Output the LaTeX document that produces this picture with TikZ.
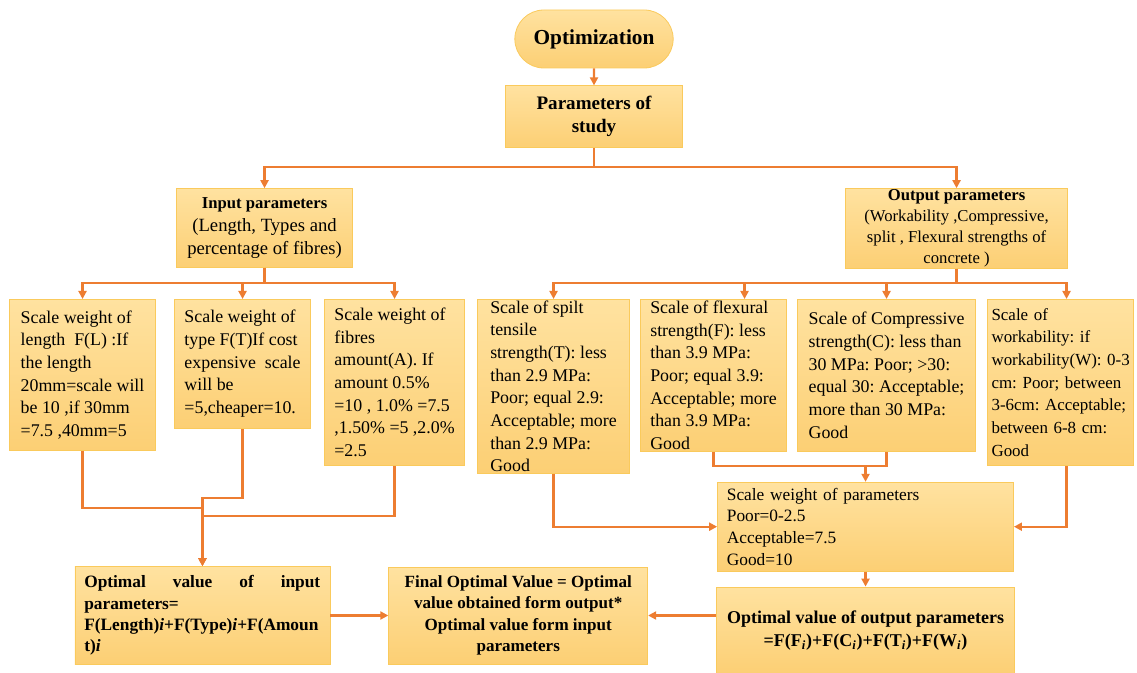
\documentclass[tikz,border=0pt]{standalone}
\usepackage{fontspec}
\setmainfont{Liberation Serif}
\usetikzlibrary{arrows.meta, positioning, shapes.misc}
\definecolor{boxtop}{RGB}{255,226,160}
\definecolor{boxbottom}{RGB}{252,207,116}
\definecolor{boxline}{RGB}{250,202,92}
\definecolor{linkorange}{RGB}{237,125,49}
\frenchspacing

\begin{document}
\begin{tikzpicture}[
  box/.style={rectangle, draw=boxline, line width=0.6pt, top color=boxtop, bottom color=boxbottom,
              align=left, inner xsep=7pt, inner ysep=0pt, font=\fontsize{13.4}{17}\selectfont},
  head/.style={box, align=center, font=\bfseries\fontsize{14.3}{17.3}\selectfont},
  pill/.style={head, rounded rectangle, font=\bfseries\fontsize{16}{19}\selectfont},
  arrow/.style={-{Triangle[length=6pt,width=6pt]}, draw=linkorange, line width=1.6pt},
  link/.style={draw=linkorange, line width=1.6pt}
]
\useasboundingbox (0,0) rectangle (852.75pt,-504.75pt);

\node[pill, minimum width=132.75pt, minimum height=43.5pt] (opt) at (445.5pt,-29.25pt) {Optimization};
\node[head, minimum width=132.75pt, minimum height=46.5pt, below=12.75pt of opt] (study) {Parameters of\\study};
\node[box, align=center, font=\fontsize{14}{17.5}\selectfont, minimum width=132pt, minimum height=59.25pt,
      below=30pt of study, xshift=-247.1pt] (inp) {{\bfseries\fontsize{12.5}{17.5}\selectfont Input parameters}\\(Length, Types and\\percentage of fibres)};
\node[box, align=center, font=\fontsize{12.5}{15.75}\selectfont, minimum width=166.5pt, minimum height=60pt,
      below=30pt of study, xshift=271.9pt] (outp) {\textbf{Output parameters}\\(Workability ,Compressive,\\split , Flexural strengths of\\concrete )};

% input side
\node[box, minimum width=109.5pt, minimum height=113.25pt, below=23.25pt of inp, xshift=-136.5pt] (lenw) {Scale weight of\\length\ \ F(L) :If\\the length\\20mm=scale will\\be 10 ,if 30mm\\=7.5 ,40mm=5};
\node[box, minimum width=102pt, minimum height=96.75pt, below=23.25pt of inp, xshift=-16.5pt] (typew) {Scale weight of\\type F(T)If cost\\expensive\ \ scale\\will be\\=5,cheaper=10.};
\node[box, minimum width=105pt, minimum height=124.5pt, below=23.25pt of inp, xshift=97.5pt] (amtw) {Scale weight of\\fibres\\amount(A). If\\amount 0.5\%\\=10 , 1.0\% =7.5\\,1.50\% =5 ,2.0\%\\=2.5};

% output side
\node[box, minimum width=114pt, minimum height=130.5pt, below=22.5pt of outp, xshift=-302.25pt] (splitw) {Scale of spilt\\tensile\\strength(T): less\\than 2.9 MPa:\\Poor; equal 2.9:\\Acceptable; more\\than 2.9 MPa:\\Good};
\node[box, minimum width=109.5pt, minimum height=114pt, below=22.5pt of outp, xshift=-182.25pt] (flexw) {Scale of flexural\\strength(F): less\\than 3.9 MPa:\\Poor; equal 3.9:\\Acceptable; more\\than 3.9 MPa:\\Good};
\node[box, minimum width=133.5pt, minimum height=114pt, below=22.5pt of outp, xshift=-52.5pt] (compw) {Scale of Compressive\\strength(C): less than\\30 MPa: Poor; >30:\\equal 30: Acceptable;\\more than 30 MPa:\\Good};
\node[box, inner xsep=3pt, text width=103.5pt, minimum height=124.5pt, font=\fontsize{12.7}{17}\selectfont,
      below=22.5pt of outp, xshift=78pt] (workw) {Scale of\\workability: if\\\mbox{workability(W): 0-3}\\\mbox{cm: Poor; between}\\\mbox{3-6cm: Acceptable;}\\\mbox{between 6-8 cm:}\\Good};

\node[box, text width=208pt, minimum height=66.75pt, font=\fontsize{13}{16.3}\selectfont,
      below=22.5pt of compw, xshift=-15.75pt] (weight) {Scale weight of parameters\\Poor=0-2.5\\Acceptable=7.5\\Good=10};
\node[box, align=center, minimum width=223.5pt, minimum height=65.25pt, font=\bfseries\fontsize{13.5}{17.5}\selectfont,
      below=11.25pt of weight] (optout) {Optimal value of output parameters\\=F(F\textsubscript{\textit{i}})+F(C\textsubscript{\textit{i}})+F(T\textsubscript{\textit{i}})+F(W\textsubscript{\textit{i}})};
\node[box, align=center, minimum width=194.25pt, minimum height=72.75pt, font=\bfseries\fontsize{12.8}{16}\selectfont,
      left=51pt of optout, yshift=11.25pt] (final) {Final Optimal Value = Optimal\\value obtained form output*\\Optimal value form input\\parameters};
\node[box, text width=177.25pt, minimum height=73.5pt, font=\bfseries\fontsize{13}{16}\selectfont,
      left=43.5pt of final] (optin) {\hbox to 177pt{Optimal\hfill value\hfill of\hfill input}\\parameters=\\F(Length)\textit{i}+F(Type)\textit{i}+F(Amoun\\t)\textit{i}};

% connectors
\draw[arrow] (opt) -- (study);
\draw[arrow] (study.south) -- ++(0,-14.25pt) -| (inp.north);
\draw[arrow] (study.south) -- ++(0,-14.25pt) -| (outp.north);
\foreach \n in {lenw, typew, amtw}
  \draw[arrow] (inp.south) -- ++(0,-11.25pt) -| (\n.north);
\draw[arrow] (outp.south) -- ++(0,-10.5pt) -| (splitw.north);
\draw[arrow] (outp.south) -- ++(0,-10.5pt) -| ([xshift=23.25pt]flexw.north);
\draw[arrow] (outp.south) -- ++(0,-10.5pt) -| (compw.north);
\draw[arrow] (outp.south) -- ++(0,-10.5pt) -| ([xshift=4.5pt]workw.north);

\draw[arrow] (lenw.south) -- ++(0,-42.75pt) -| (optin.north);
\draw[arrow] (typew.south) -- ++(0,-51.75pt) -| (optin.north);
\draw[arrow] (amtw.south) -- ++(0,-37.5pt) -| (optin.north);

\draw[arrow] (splitw.south) |- (weight.west);
\draw[link] (flexw.south) -- ++(0,-10.5pt) coordinate (fc) -| (compw.south);
\draw[arrow] (fc -| weight.north) -- (weight.north);
\draw[arrow] ([xshift=4.5pt]workw.south) |- (weight.east);
\draw[arrow] (weight.south) -- (weight.south |- optout.north);
\draw[arrow] (optout.west |- final.east) -- (final.east);
\draw[arrow] (optin) -- (final);
\end{tikzpicture}
\end{document}
